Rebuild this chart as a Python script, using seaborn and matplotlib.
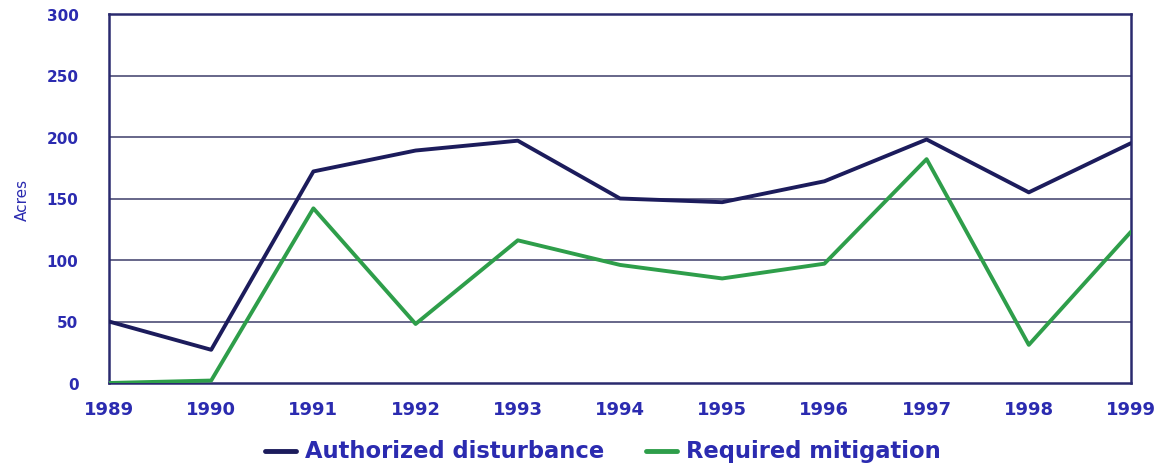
import matplotlib
matplotlib.use("Agg")
import matplotlib.pyplot as plt
from matplotlib.lines import Line2D
import seaborn as sns
import pandas as pd

years = [1989, 1990, 1991, 1992, 1993, 1994, 1995, 1996, 1997, 1998, 1999]
authorized = [50, 27, 172, 189, 197, 150, 147, 164, 198, 155, 195]
mitigation = [0, 2, 142, 48, 116, 96, 85, 97, 182, 31, 123]
series_names = ["Authorized disturbance", "Required mitigation"]
y_ticks = [0, 50, 100, 150, 200, 250, 300]

sns.set_theme(style="white")
plt.rcParams["font.family"] = ["DejaVu Sans"]

df = pd.DataFrame({
    "Year": years * 2,
    "Acres": authorized + mitigation,
    "Series": [series_names[0]] * len(years) + [series_names[1]] * len(years),
})

text_blue = "#2b2bb0"
frame_col = "#2a2a6e"
palette = {series_names[0]: "#1c1c5c", series_names[1]: "#2e9e4a"}

W, H = 1161, 464
fig = plt.figure(figsize=(W / 100, H / 100), dpi=100)
ax = fig.add_axes([109 / W, 80 / H, 1022 / W, 369 / H])

for yv in y_ticks[1:-1]:
    ax.axhline(yv, color="#5a5a80", lw=1.3, zorder=1)

sns.lineplot(data=df, x="Year", y="Acres", hue="Series", palette=palette,
             linewidth=2.8, ax=ax, legend=False, zorder=3)

ax.set_xlim(1989, 1999)
ax.set_ylim(0, 300)
ax.set_xticks(years)
ax.set_yticks(y_ticks)
ax.set_xticklabels([str(y) for y in years], fontsize=13, fontweight="bold", color=text_blue)
ax.set_yticklabels([str(v) for v in y_ticks], fontsize=11, fontweight="bold", color=text_blue)
ax.tick_params(axis="x", direction="in", length=4, width=1.2, color=frame_col, pad=12)
ax.tick_params(axis="y", length=0, pad=22)
ax.set_xlabel("")
ax.set_ylabel("Acres", fontsize=11, color=text_blue, family="Liberation Sans Narrow", labelpad=12)
for s in ax.spines.values():
    s.set_color(frame_col)
    s.set_linewidth(1.8)

# legend below the axis
ly = 12 / H
fig.add_artist(Line2D([265 / W, 296 / W], [ly, ly], color=palette[series_names[0]], lw=3.5,
                      transform=fig.transFigure))
fig.text(305 / W, ly, series_names[0], fontsize=16.3, fontweight="bold", color=text_blue, va="center")
fig.add_artist(Line2D([646 / W, 677 / W], [ly, ly], color=palette[series_names[1]], lw=3.5,
                      transform=fig.transFigure))
fig.text(686 / W, ly, series_names[1], fontsize=16.3, fontweight="bold", color=text_blue, va="center")

fig.savefig("out.png", dpi=100)
